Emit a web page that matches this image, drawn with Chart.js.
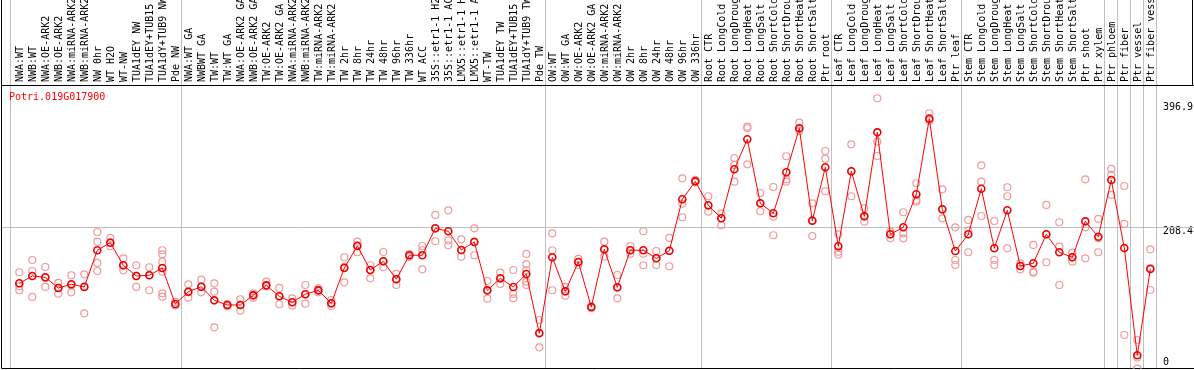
<!DOCTYPE html>
<html>
<head>
<meta charset="utf-8">
<script src="https://cdn.jsdelivr.net/npm/chart.js@4.4.1/dist/chart.umd.min.js"></script>
<style>
  html, body { margin: 0; padding: 0; background: #fff; }
  #wrap { width: 1194px; height: 370px; position: relative; }
</style>
</head>
<body>
<div id="wrap"><canvas id="chart"></canvas></div>
<script>
const geneName = "Potri.019G017900";

const labels = [
  "NWA:WT", "NWB:WT", "NWA:OE-ARK2", "NWB:OE-ARK2", "NWA:miRNA-ARK2", "NWB:miRNA-ARK2",
  "NW 0hr", "WT H2O", "WT-NW", "TUA1dEY NW", "TUA1dEY+TUB15 NW", "TUA1dY+TUB9 NW", "Pde NW",
  "NWA:WT GA", "NWBWT GA", "TW:WT", "TW:WT GA", "NWA:OE-ARK2 GA", "NWB:OE-ARK2 GA",
  "TW:OE-ARK2", "TW:OE-ARK2 GA", "NWA:miRNA-ARK2", "NWB:miRNA-ARK2", "TW:miRNA-ARK2", "TW:miRNA-ARK2",
  "TW 2hr", "TW 8hr", "TW 24hr", "TW 48hr", "TW 96hr", "TW 336hr", "WT ACC",
  "35S::etr1-1 H2O", "35S::etr1-1 ACC", "LMX5::etr1-1 H2O", "LMX5::etr1-1 ACC",
  "WT-TW", "TUA1dEY TW", "TUA1dEY+TUB15 TW", "TUA1dY+TUB9 TW", "Pde TW",
  "OW:WT", "OW:WT GA", "OW:OE-ARK2", "OW:OE-ARK2 GA", "OW:miRNA-ARK2", "OW:miRNA-ARK2",
  "OW 2hr", "OW 8hr", "OW 24hr", "OW 48hr", "OW 96hr", "OW 336hr",
  "Root CTR", "Root LongCold", "Root LongDrought", "Root LongHeat", "Root LongSalt",
  "Root ShortCold", "Root ShortDrought", "Root ShortHeat", "Root ShortSalt", "Ptr root",
  "Leaf CTR", "Leaf LongCold", "Leaf LongDrought", "Leaf LongHeat", "Leaf LongSalt",
  "Leaf ShortCold", "Leaf ShortDrought", "Leaf ShortHeat", "Leaf ShortSalt", "Ptr leaf",
  "Stem CTR", "Stem LongCold", "Stem LongDrought", "Stem LongHeat", "Stem LongSalt",
  "Stem ShortCold", "Stem ShortDrought", "Stem ShortHeat", "Stem ShortSalt", "Ptr shoot",
  "Ptr xylem", "Ptr phloem", "Ptr fiber", "Ptr vessel", "Ptr fiber vessel"
];

// mean expression per sample
const means = [
  124.8, 135.9, 133.9, 117.6, 123.3, 119.2, 175, 186.5, 152.2, 135.9, 137, 148, 93.3,
  112, 119.6, 98.9, 91.8, 91.8, 106.5, 121.7, 105, 95.9, 108.1, 114.1, 94.4, 148, 181.5,
  145, 158.2, 130.9, 167.4, 167.4, 208.4, 203.8, 175.4, 187.6, 114.1, 132.4, 119.2, 138.9, 48.8,
  164.3, 112.6, 157.2, 88.8, 176.5, 118.7, 175, 175, 162.8, 174.3, 252.5, 279.8,
  243.4, 223.6, 298.1, 343.7, 246.4, 231.2, 293.5, 360.4, 220, 301.1,
  181, 295.1, 226.6, 354.3, 199.3, 209.9, 260.1, 375, 237.3, 173.9,
  199.3, 268.6, 178, 235.8, 151.1, 155.2, 199.3, 171.9, 164.3, 219, 195.6,
  281.8, 178.5, 15.3, 146.5
];

// individual replicates per sample
const replicates = [
  [141.6, 120.3, 114.2], [160.2, 143.5, 104], [149.6, 119.2, 133], [125.3, 109, 118],
  [137, 111.1, 122], [138.5, 79.2, 120], [202.8, 188.1, 155.7, 143.5], [193.7, 181.1, 187],
  [162.8, 144.6, 152], [152.2, 119.2, 136], [149.2, 114.2, 137],
  [175, 168.9, 157.7, 142.5, 109.6, 104.5], [96.4, 92, 91],
  [123.3, 102.9, 111], [130.3, 111.1, 119], [124.8, 112.1, 57.9], [92, 90, 93],
  [100.5, 83.2, 92], [109.6, 102.9, 107], [127.3, 122, 120], [117.7, 92.9, 105],
  [102, 90.8, 96], [122.2, 93.8, 108], [117.2, 111.1, 114], [99.4, 90.3, 94],
  [164.4, 150.1, 126.3], [188.1, 172, 183], [152.2, 132.4, 145], [172.4, 149.2, 158],
  [139, 122.2, 131], [167, 165, 169], [181.5, 175, 146.1], [228.7, 188.7, 208],
  [235.8, 190.2, 182.6], [191.7, 165.3, 175], [208.4, 167.4, 188], [128.3, 101.4, 114],
  [140.9, 123.8, 132], [145, 108.6, 102], [169.4, 153.7, 144.6, 127.3, 122.2], [69, 27.5, 50],
  [200.8, 175, 114.2], [119.2, 106, 112], [161.8, 152.6, 157], [89, 87, 90],
  [188.1, 165.3, 176], [137.4, 102, 118], [181.5, 169.8, 175], [203.9, 169.8, 152.2],
  [173.9, 152.6, 163], [193.7, 150.7, 174], [284.4, 245.8, 225.2], [282, 278, 280],
  [257.1, 233.7, 243], [231.2, 213, 224], [315.3, 304.7, 279.3], [362.9, 360.5, 305.7],
  [262.1, 234.3, 246], [271.2, 226.1, 197.8], [317.9, 282.9, 279.3], [369, 356.4, 360],
  [246.4, 196.7, 220], [325.9, 314.2, 264.7],
  [199.3, 172.9, 168.3], [336.1, 257.1, 295], [238.8, 218.5, 227], [406.1, 340.1, 318.3],
  [203.3, 193.2, 199], [232.8, 200.8, 193.2], [276.9, 251.5, 248.9], [383.3, 372, 376],
  [267.7, 223.6, 237], [209.9, 160.2, 152.6],
  [221.1, 204.8, 172], [304.2, 279.3, 227.1], [219.5, 160.2, 152.6], [270.8, 257.1, 178],
  [146.1, 151, 155], [183.1, 142.5, 140.9], [243.9, 156.8, 199], [217.6, 180.5, 122.2],
  [171.3, 157.7, 164], [282.9, 209.9, 162.8], [222.6, 193.2, 172],
  [298.6, 289.5, 259.1], [272.7, 215, 46.2], [38.6, -5, 12], [176.5, 114.6, 148]
];

const yTicks = [0, 208.4, 396.9];
// last sample index of each tissue group
const groupEnds = [12, 40, 52, 62, 72, 83, 84, 85, 86, 87];

const meanPoints = means.map((v, i) => ({ x: i, y: v }));
const repPoints = [];
replicates.forEach((vals, i) => vals.forEach(v => repPoints.push({ x: i, y: v })));

const monoFont = { family: "'DejaVu Sans Mono', monospace", size: 10 };

const framePlugin = {
  id: "frame",
  beforeDatasetsDraw(chart) {
    const { ctx, chartArea, scales } = chart;
    const W = chart.width;
    ctx.save();
    ctx.lineWidth = 1;
    ctx.strokeStyle = "#c0c0c0";
    ctx.beginPath();
    [-0.7, ...groupEnds.map(g => g + 0.4)].forEach(b => {
      const px = Math.round(scales.x.getPixelForValue(b)) + 0.5;
      ctx.moveTo(px, 0);
      ctx.lineTo(px, chartArea.bottom);
    });
    const gy = Math.round(scales.y.getPixelForValue(yTicks[1])) - 0.5;
    ctx.moveTo(chartArea.left, gy);
    ctx.lineTo(W, gy);
    ctx.stroke();

    ctx.strokeStyle = "#000";
    ctx.beginPath();
    const top = Math.round(chartArea.top) + 0.5;
    const bottom = Math.round(chartArea.bottom) - 0.5;
    const left = Math.round(chartArea.left) + 0.5;
    ctx.moveTo(left, 0);
    ctx.lineTo(left, bottom);
    ctx.lineTo(W, bottom);
    ctx.moveTo(left, top);
    ctx.lineTo(W, top);
    ctx.moveTo(W - 1.5, 0);
    ctx.lineTo(W - 1.5, top);
    ctx.stroke();
    ctx.restore();
  },
  afterDraw(chart) {
    const { ctx, chartArea } = chart;
    ctx.save();
    ctx.fillStyle = "#ff0000";
    ctx.font = "10px 'DejaVu Sans Mono', monospace";
    ctx.textBaseline = "top";
    ctx.fillText(geneName, chartArea.left + 8, chartArea.top + 7);
    ctx.restore();
  }
};

new Chart(document.getElementById("chart"), {
  type: "line",
  data: {
    datasets: [
      {
        label: "mean",
        data: meanPoints,
        borderColor: "#ff0000",
        borderWidth: 1,
        pointRadius: 3.5,
        pointBorderWidth: 1.6,
        pointBorderColor: "#ee0000",
        pointBackgroundColor: "rgba(0,0,0,0)",
        tension: 0,
      },
      {
        label: "replicates",
        data: repPoints,
        showLine: false,
        pointRadius: 3.5,
        pointBorderWidth: 1.2,
        pointBorderColor: "#f09a9a",
        pointBackgroundColor: "rgba(0,0,0,0)",
      },
    ],
  },
  options: {
    responsive: true,
    maintainAspectRatio: false,
    animation: false,
    layout: { autoPadding: false, padding: { left: 1, right: 0, top: 0, bottom: 1 } },
    plugins: { legend: { display: false }, tooltip: { enabled: false } },
    scales: {
      x: {
        type: "linear",
        position: "top",
        min: -1.408,
        max: 87.515,
        grid: { display: false, drawTicks: false },
        border: { display: false },
        afterBuildTicks: (s) => { s.ticks = labels.map((l, i) => ({ value: i })); },
        afterFit: (s) => {
          s.height = 85;
          s.paddingLeft = 0;
          s.paddingRight = 0;
        },
        ticks: {
          autoSkip: false,
          minRotation: 90,
          maxRotation: 90,
          padding: 3,
          labelOffset: 13,
          color: "#000",
          font: monoFont,
          callback: (v) => labels[v],
        },
      },
      y: {
        position: "right",
        min: -5.5,
        max: 426.25,
        grid: { display: false, drawTicks: false },
        border: { display: false },
        afterBuildTicks: (s) => { s.ticks = yTicks.map((v) => ({ value: v })); },
        afterFit: (s) => {
          s.width = 37;
          s.paddingTop = 0;
          s.paddingBottom = 0;
        },
        ticks: {
          padding: 6,
          labelOffset: 3.4,
          color: "#000",
          font: monoFont,
          callback: (v) => (v === 0 ? ["0", ""] : String(v)),
        },
      },
    },
  },
  plugins: [framePlugin],
});
</script>
</body>
</html>
